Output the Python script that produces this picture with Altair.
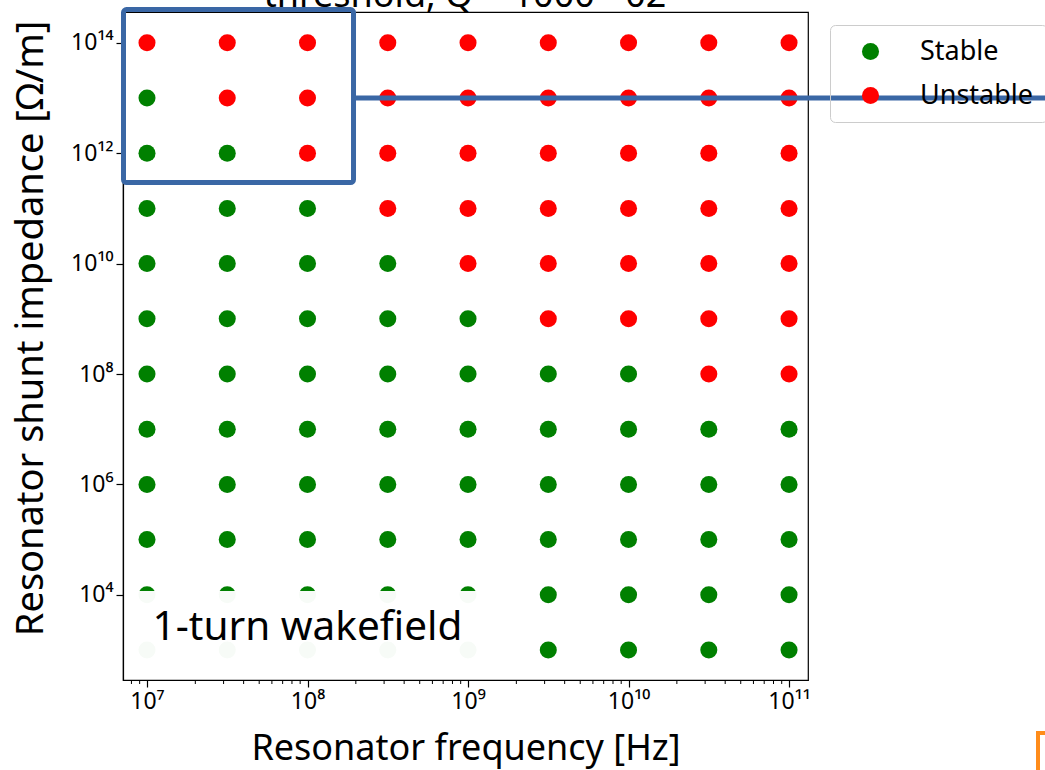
import altair as alt
import pandas as pd

# ---------------- data ----------------
freq_exponents = [7.0, 7.5, 8.0, 8.5, 9.0, 9.5, 10.0, 10.5, 11.0]
imp_exponents = [14, 13, 12, 11, 10, 9, 8, 7, 6, 5, 4, 3]
# S = stable, U = unstable ; one string per impedance row, one char per frequency column
status_rows = [
    "UUUUUUUUU",  # 1e14
    "SUUUUUUUU",  # 1e13
    "SSUUUUUUU",  # 1e12
    "SSSUUUUUU",  # 1e11
    "SSSSUUUUU",  # 1e10
    "SSSSSUUUU",  # 1e9
    "SSSSSSSUU",  # 1e8
    "SSSSSSSSS",  # 1e7
    "SSSSSSSSS",  # 1e6
    "SSSSSSSSS",  # 1e5
    "SSSSSSSSS",  # 1e4
    "SSSSSSSSS",  # 1e3
]
categories = ["Stable", "Unstable"]
colors = ["#008000", "#ff0000"]

x_major = [1e7, 1e8, 1e9, 1e10, 1e11]
y_major = [1e4, 1e6, 1e8, 1e10, 1e12, 1e14]
x_minor = [m * 10 ** d for d in range(6, 11) for m in range(2, 10)]
x_minor = [v for v in x_minor if 10 ** 6.85 < v < 10 ** 11.118]

x_domain = [10 ** 6.8505, 10 ** 11.118]
y_domain = [10 ** 2.4565, 10 ** 14.558]

# annotation geometry (data space)
box_x = [10 ** 6.8536, 10 ** 8.2866]
box_y = [10 ** 11.469, 10 ** 14.603]
line_x = [10 ** 8.2866, 10 ** 12.7]
line_y = [10 ** 13.0]
note_x = [10 ** 6.89, 10 ** 9.07]
note_y = [10 ** 2.80, 10 ** 4.07]
note_text = "1-turn wakefield"
note_pos = [10 ** 7.035, 10 ** 3.18]
title_text = "threshold, Q = 1000 - 02"

# ---------------- build table ----------------
rows = []
for i, ye in enumerate(imp_exponents):
    for j, xe in enumerate(freq_exponents):
        rows.append({
            "f": 10 ** xe,
            "z": 10 ** ye,
            "status": "Stable" if status_rows[i][j] == "S" else "Unstable",
        })
df = pd.DataFrame(rows)

FONT = "Noto Sans"
SUP = "⁰¹²³⁴⁵⁶⁷⁸⁹"
E = "round(log(datum.value)/LN10)"
label_expr = (
    f"'10' + ({E} >= 10 ? '¹' + substring('{SUP}', {E}-10, {E}-9) "
    f": substring('{SUP}', {E}, {E}+1))"
)

xscale = alt.Scale(type="log", domain=x_domain, nice=False)
yscale = alt.Scale(type="log", domain=y_domain, nice=False)

XT = "Resonator frequency [Hz]"
YT = "Resonator shunt impedance [Ω/m]"

points = alt.Chart(df).mark_circle(size=290, opacity=1).encode(
    x=alt.X("f:Q", scale=xscale, title=XT,
            axis=alt.Axis(values=x_major, labelExpr=label_expr, title=XT, titlePadding=18)),
    y=alt.Y("z:Q", scale=yscale, title=YT,
            axis=alt.Axis(values=y_major, labelExpr=label_expr, title=YT, titleFontSize=38,
                          titleX=-73, titleY=316, titleAlign="center")),
    color=alt.Color("status:N", scale=alt.Scale(domain=categories, range=colors),
                    legend=alt.Legend(title=None, orient="none", legendX=707, legendY=13,
                                      symbolType="circle", symbolSize=290, symbolStrokeWidth=0,
                                      labelFontSize=27, labelFont=FONT, labelColor="black",
                                      padding=13, symbolOffset=14, labelOffset=36, rowPadding=16,
                                      strokeColor="#cccccc", cornerRadius=5)),
)

minor = alt.Chart(pd.DataFrame({"f": x_minor})).mark_rule(color="black", strokeWidth=1).encode(
    x=alt.X("f:Q", scale=xscale, title=XT),
    y=alt.value(668), y2=alt.value(672),
)

note_box = alt.Chart(pd.DataFrame({"f": [note_x[0]], "f2": [note_x[1]],
                                    "z": [note_y[0]], "z2": [note_y[1]]})).mark_rect(
    color="white", opacity=0.97).encode(
    x=alt.X("f:Q", scale=xscale, title=XT), x2="f2",
    y=alt.Y("z:Q", scale=yscale, title=YT), y2="z2",
)

note = alt.Chart(pd.DataFrame({"f": [note_pos[0]], "z": [note_pos[1]], "t": [note_text]})).mark_text(
    align="left", baseline="alphabetic", fontSize=40.5, font=FONT, color="black").encode(
    x=alt.X("f:Q", scale=xscale, title=XT),
    y=alt.Y("z:Q", scale=yscale, title=YT),
    text="t:N",
)

blue = "#3a67a5"
box = alt.Chart(pd.DataFrame({"f": [box_x[0]], "f2": [box_x[1]],
                               "z": [box_y[0]], "z2": [box_y[1]]})).mark_rect(
    fill=None, fillOpacity=0, stroke=blue, strokeWidth=5, cornerRadius=3).encode(
    x=alt.X("f:Q", scale=xscale, title=XT), x2="f2",
    y=alt.Y("z:Q", scale=yscale, title=YT), y2="z2",
)

hline = alt.Chart(pd.DataFrame({"f": [line_x[0]], "f2": [line_x[1]], "z": line_y})).mark_rule(
    color=blue, strokeWidth=5).encode(
    x=alt.X("f:Q", scale=xscale, title=XT), x2="f2",
    y=alt.Y("z:Q", scale=yscale, title=YT),
)

title = alt.Chart(pd.DataFrame({"t": [title_text]})).mark_text(
    align="center", baseline="alphabetic", fontSize=36, font=FONT, color="black").encode(
    x=alt.value(342), y=alt.value(-5), text="t:N",
)

bracket_v = alt.Chart(pd.DataFrame({"a": [0]})).mark_rule(color="#ff8c1a", strokeWidth=4).encode(
    x=alt.value(915), y=alt.value(720), y2=alt.value(770))
bracket_h = alt.Chart(pd.DataFrame({"a": [0]})).mark_rule(color="#ff8c1a", strokeWidth=4).encode(
    x=alt.value(913), x2=alt.value(930), y=alt.value(721))

chart = alt.layer(points, minor, note_box, note, box, hline, title, bracket_v, bracket_h).properties(
    width=685, height=668,
    autosize=alt.AutoSizeParams(type="none"),
    padding={"left": 123, "top": 12, "right": 237, "bottom": 90},
    background="white",
).configure_view(stroke="black", strokeWidth=1.2).configure_axis(
    domainWidth=1.2, tickWidth=1.2, tickSize=7, labelFontSize=23, titleFontSize=36,
    labelPadding=3, grid=False, domainColor="black", tickColor="black",
    labelColor="black", titleColor="black", titleFontWeight="normal",
    labelFont=FONT, titleFont=FONT,
)

chart.save("out.html", embed_options={"renderer": "svg", "actions": False})
